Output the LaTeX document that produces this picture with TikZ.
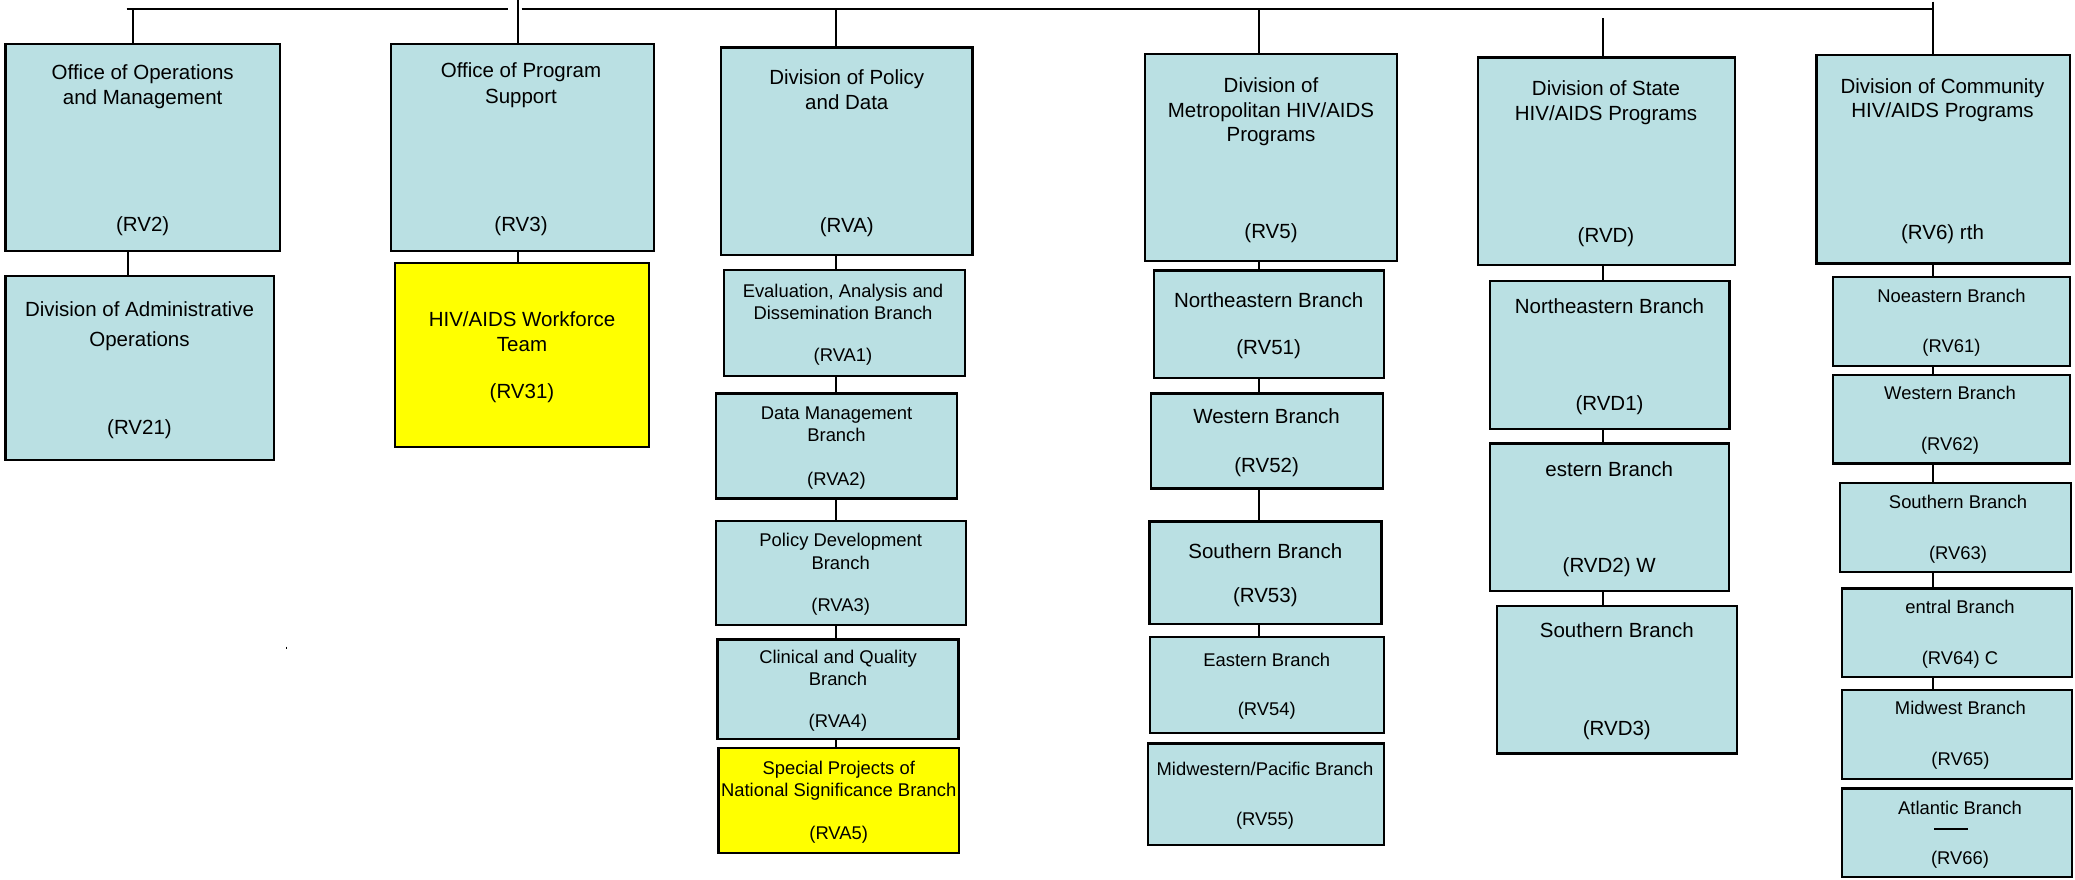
\documentclass[tikz,border=0pt]{standalone}
\usepackage{fontspec}
\setmainfont{Liberation Sans}
\usetikzlibrary{fit}
\definecolor{boxblue}{RGB}{186,224,227}
\definecolor{boxyellow}{RGB}{255,255,0}
\begin{document}
\begin{tikzpicture}[x=0.5pt,y=-0.5pt,
  box/.style={draw=black,line width=1.2pt,fill=boxblue,inner sep=0pt,rectangle},
  ybox/.style={box,fill=boxyellow},
  conn/.style={draw=black,line width=0.9pt},
  lt/.style={anchor=base,inner sep=0pt,font=\fontsize{10.25}{12}\selectfont},
  st/.style={anchor=base,inner sep=0pt,font=\fontsize{9.2}{11}\selectfont}]
\useasboundingbox (0,0) rectangle (2075,879);

% ---------- boxes ----------
\node[box,fit={(5.4,44) (280,251)}] (rv2) {};
\node[box,fit={(5.4,276) (273.7,460)}] (rv21) {};
\node[box,fit={(391,44) (654,251)}] (rv3) {};
\node[ybox,fit={(395,263) (649,447)}] (rv31) {};

\node[box,fit={(721,47.3) (972.6,255)}] (rva) {};
\node[box,fit={(724,270) (965,376)}] (rva1) {};
\node[box,fit={(716,393.3) (956.7,498.3)}] (rva2) {};
\node[box,fit={(715.7,520.7) (965.7,624.7)}] (rva3) {};
\node[box,fit={(717.5,639.3) (958.6,738.7)}] (rva4) {};
\node[ybox,fit={(718.4,748) (959,852.7)}] (rva5) {};

\node[box,fit={(1145,54) (1397,261)}] (rv5) {};
\node[box,fit={(1154,270.3) (1384,377.7)}] (rv51) {};
\node[box,fit={(1151,393.3) (1383,488.3)}] (rv52) {};
\node[box,fit={(1149.6,521.3) (1381.6,623.7)}] (rv53) {};
\node[box,fit={(1150,636.7) (1384,732.7)}] (rv54) {};
\node[box,fit={(1148,743.3) (1384,845)}] (rv55) {};

\node[box,fit={(1478,57.3) (1735,265)}] (rvd) {};
\node[box,fit={(1490,281) (1729.6,429)}] (rvd1) {};
\node[box,fit={(1490,443.3) (1729,591)}] (rvd2) {};
\node[box,fit={(1497,605.7) (1737,753.3)}] (rvd3) {};

\node[box,fit={(1816.6,55) (2069.7,263.3)}] (rv6) {};
\node[box,fit={(1833,276.7) (2069.7,365.7)}] (rv61) {};
\node[box,fit={(1832.7,375) (2069.7,463.3)}] (rv62) {};
\node[box,fit={(1839.8,482.7) (2071,571.7)}] (rv63) {};
\node[box,fit={(1842,588.3) (2072,676.7)}] (rv64) {};
\node[box,fit={(1842,690) (2072,779)}] (rv65) {};
\node[box,fit={(1842,788.3) (2072,876.7)}] (rv66) {};

% ---------- column coordinates ----------
\coordinate (busL) at (126.7,9.3);
\coordinate (busG1) at (507.7,9.3);
\coordinate (busG2) at (521.7,9.3);
\coordinate (busR) at (1933.3,9.3);
\coordinate (xa) at (133.3,0);
\coordinate (xb) at (127.7,0);
\coordinate (xc) at (517.7,0);
\coordinate (xd) at (836,0);
\coordinate (xe) at (1259,0);
\coordinate (xf) at (1603,0);
\coordinate (xfs) at (1603,18.3);
\coordinate (xg) at (1933.3,0);
\coordinate (xgs) at (1933.3,1.7);

% ---------- connectors ----------
\draw[conn] (busL) -- (busG1);
\draw[conn] (busG2) -- (busR);
\draw[conn] (xa |- busL) -- (xa |- rv2.north);
\draw[conn] (xc) -- (xc |- rv3.north);
\draw[conn] (xd |- busL) -- (xd |- rva.north);
\draw[conn] (xe |- busL) -- (xe |- rv5.north);
\draw[conn] (xfs) -- (xf |- rvd.north);
\draw[conn] (xgs) -- (xg |- rv6.north);

\draw[conn] (xb |- rv2.south) -- (xb |- rv21.north);
\draw[conn] (xc |- rv3.south) -- (xc |- rv31.north);

\draw[conn] (xd |- rva.south) -- (xd |- rva1.north);
\draw[conn] (xd |- rva1.south) -- (xd |- rva2.north);
\draw[conn] (xd |- rva2.south) -- (xd |- rva3.north);
\draw[conn] (xd |- rva3.south) -- (xd |- rva4.north);
\draw[conn] (xd |- rva4.south) -- (xd |- rva5.north);

\draw[conn] (xe |- rv5.south) -- (xe |- rv51.north);
\draw[conn] (xe |- rv51.south) -- (xe |- rv52.north);
\draw[conn] (xe |- rv52.south) -- (xe |- rv53.north);
\draw[conn] (xe |- rv53.south) -- (xe |- rv54.north);

\draw[conn] (xf |- rvd.south) -- (xf |- rvd1.north);
\draw[conn] (xf |- rvd1.south) -- (xf |- rvd2.north);
\draw[conn] (xf |- rvd2.south) -- (xf |- rvd3.north);

\draw[conn] (xg |- rv6.south) -- (xg |- rv61.north);
\draw[conn] (xg |- rv61.south) -- (xg |- rv62.north);
\draw[conn] (xg |- rv62.south) -- (xg |- rv63.north);
\draw[conn] (xg |- rv63.south) -- (xg |- rv64.north);
\draw[conn] (xg |- rv64.south) -- (xg |- rv65.north);

% stray tick
\draw[line width=0.5pt] (286.3,646.5) -- (286.3,649);

% ---------- texts ----------
\node[lt] (t2a) at (142.7,79.7) {Office of Operations};
\node[lt] (t2b) at (142.7,104.7) {and Management};
\node[lt] (t2c) at (142.7,231.2) {(RV2)};

\node[lt] (t21a) at (139.5,316) {Division of Administrative};
\node[lt] (t21b) at (139.5,346) {Operations};
\node[lt] (t21c) at (139.5,434.5) {(RV21)};

\node[lt] (t3a) at (521,77.7) {Office of Program};
\node[lt] (t3b) at (521,103.7) {Support};
\node[lt] (t3c) at (521,231.5) {(RV3)};

\node[lt] (t31a) at (522,326.3) {HIV/AIDS Workforce};
\node[lt] (t31b) at (522,351) {Team};
\node[lt] (t31c) at (522,398.8) {(RV31)};

\node[lt] (tAa) at (846.8,84.3) {Division of Policy};
\node[lt] (tAb) at (846.8,109.3) {and Data};
\node[lt] (tAc) at (846.8,232.8) {(RVA)};

\node[st] (tA1a) at (843,297.3) {Evaluation, Analysis and};
\node[st] (tA1b) at (843,319) {Dissemination Branch};
\node[st] (tA1c) at (843,361.7) {(RVA1)};

\node[st] (tA2a) at (836.5,419.6) {Data Management};
\node[st] (tA2b) at (836.5,441.3) {Branch};
\node[st] (tA2c) at (836.5,485) {(RVA2)};

\node[st] (tA3a) at (840.7,546.3) {Policy Development};
\node[st] (tA3b) at (840.7,569) {Branch};
\node[st] (tA3c) at (840.7,611.7) {(RVA3)};

\node[st] (tA4a) at (838,663) {Clinical and Quality};
\node[st] (tA4b) at (838,685.3) {Branch};
\node[st] (tA4c) at (838,727.7) {(RVA4)};

\node[st] (tA5a) at (838.7,774) {Special Projects of};
\node[st] (tA5b) at (838.7,796.3) {National Significance Branch};
\node[st] (tA5c) at (838.7,839) {(RVA5)};

\node[lt] (t5a) at (1271,92) {Division of};
\node[lt] (t5b) at (1271,117) {Metropolitan HIV/AIDS};
\node[lt] (t5c) at (1271,141.3) {Programs};
\node[lt] (t5d) at (1271,238.8) {(RV5)};

\node[lt] (t51a) at (1268.6,307) {Northeastern Branch};
\node[lt] (t51b) at (1268.6,354.5) {(RV51)};
\node[lt] (t52a) at (1266.6,423.7) {Western Branch};
\node[lt] (t52b) at (1266.6,472.2) {(RV52)};
\node[lt] (t53a) at (1265.3,558) {Southern Branch};
\node[lt] (t53b) at (1265.3,602.2) {(RV53)};
\node[st] (t54a) at (1266.8,666.3) {Eastern Branch};
\node[st] (t54b) at (1266.8,715.7) {(RV54)};
\node[st] (t55a) at (1265,775.3) {Midwestern/Pacific Branch};
\node[st] (t55b) at (1265,825.7) {(RV55)};

\node[lt] (tDa) at (1606,95.3) {Division of State};
\node[lt] (tDb) at (1606,120.3) {HIV/AIDS Programs};
\node[lt] (tDc) at (1606,242.2) {(RVD)};
\node[lt] (tD1a) at (1609.5,313.7) {Northeastern Branch};
\node[lt] (tD1b) at (1609.5,410.5) {(RVD1)};
\node[lt] (tD2a) at (1609.2,476.3) {estern Branch};
\node[lt] (tD2b) at (1609.2,572.2) {(RVD2) W};
\node[lt] (tD3a) at (1616.8,637.7) {Southern Branch};
\node[lt] (tD3b) at (1616.8,735.5) {(RVD3)};

\node[lt] (t6a) at (1942.5,93) {Division of Community};
\node[lt] (t6b) at (1942.5,117) {HIV/AIDS Programs};
\node[lt] (t6c) at (1942.5,239.5) {(RV6) rth};
\node[st] (t61a) at (1951.4,302) {Noeastern Branch};
\node[st] (t61b) at (1951.4,352.7) {(RV61)};
\node[st] (t62a) at (1950,399.6) {Western Branch};
\node[st] (t62b) at (1950,450) {(RV62)};
\node[st] (t63a) at (1958,508) {Southern Branch};
\node[st] (t63b) at (1958,559) {(RV63)};
\node[st] (t64a) at (1960,613) {entral Branch};
\node[st] (t64b) at (1960,664) {(RV64) C};
\node[st] (t65a) at (1960.4,714.6) {Midwest Branch};
\node[st] (t65b) at (1960.4,765.7) {(RV65)};
\node[st] (t66a) at (1960,814) {Atlantic Branch};
\coordinate (r66a) at (1934,829.3);
\coordinate (r66b) at (1967.7,829.3);
\draw[line width=0.9pt] (r66a) -- (r66b);
\node[st] (t66b) at (1960,864.3) {(RV66)};
\end{tikzpicture}
\end{document}
